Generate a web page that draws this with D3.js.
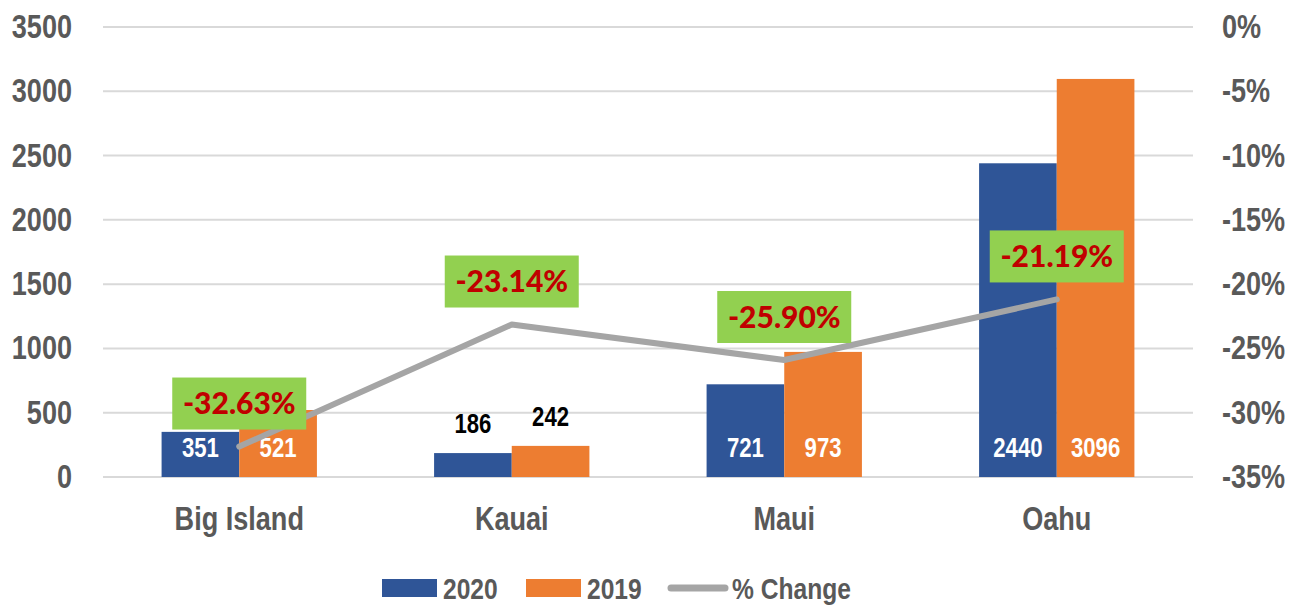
<!DOCTYPE html>
<html>
<head>
<meta charset="utf-8">
<script src="https://cdn.jsdelivr.net/npm/d3@7"></script>
<style>
  body { margin: 0; background: #fff; }
  svg text { font-family: "Liberation Sans", Arial, sans-serif; font-weight: bold; }
  .pct text { font-family: Lato, "Open Sans", sans-serif; font-weight: 900; }
</style>
</head>
<body>
<div id="chart"></div>
<script>
// data
var islands = ["Big Island", "Kauai", "Maui", "Oahu"];
var values2020 = [351, 186, 721, 2440];
var values2019 = [521, 242, 973, 3096];
var pctChange = [-32.63, -23.14, -25.90, -21.19];
var leftTicks = [0, 500, 1000, 1500, 2000, 2500, 3000, 3500];
var rightTicks = [0, -5, -10, -15, -20, -25, -30, -35];
var seriesNames = ["2020", "2019", "% Change"];

var width = 1296, height = 605;
var margin = {top: 27, right: 103, bottom: 128, left: 103};
var colors = {"2020": "#2F5597", "2019": "#ED7D31", line: "#A5A5A5"};

// no Arial Narrow here, so squeeze Liberation Sans horizontally
function narrow(sel) {
  sel.each(function() {
    var w = this.getComputedTextLength();
    d3.select(this)
      .attr("textLength", w * 0.82)
      .attr("lengthAdjust", "spacingAndGlyphs");
  });
}

var svg = d3.select("#chart").append("svg")
    .attr("width", width)
    .attr("height", height);

var x = d3.scaleBand()
    .domain(islands)
    .range([margin.left, width - margin.right])
    .paddingInner(0.43)
    .paddingOuter(0.215);

var xs = d3.scaleBand()
    .domain(["2020", "2019"])
    .range([0, x.bandwidth()]);

var y = d3.scaleLinear()
    .domain([0, 3500])
    .range([height - margin.bottom, margin.top]);

var y2 = d3.scaleLinear()
    .domain([-35, 0])
    .range([height - margin.bottom, margin.top]);

// gridlines
svg.append("g")
  .selectAll("line")
  .data(leftTicks)
  .enter().append("line")
    .attr("x1", margin.left)
    .attr("x2", width - margin.right)
    .attr("y1", function(d) { return y(d); })
    .attr("y2", function(d) { return y(d); })
    .attr("stroke", "#D9D9D9")
    .attr("stroke-width", 2);

// left axis
var gl = svg.append("g")
    .attr("transform", "translate(" + margin.left + ",0)")
    .call(d3.axisLeft(y).tickValues(leftTicks).tickSize(0).tickPadding(31).tickFormat(d3.format("d")));
gl.select(".domain").remove();
gl.selectAll("text").attr("fill", "#595959").style("font-size", "33px").call(narrow);

// right axis
var gr = svg.append("g")
    .attr("transform", "translate(" + (width - margin.right) + ",0)")
    .call(d3.axisRight(y2).tickValues(rightTicks).tickSize(0).tickPadding(29)
      .tickFormat(function(d) { return d + "%"; }));
gr.select(".domain").remove();
gr.selectAll("text").attr("fill", "#595959").style("font-size", "33px").call(narrow);

// x axis
var gx = svg.append("g")
    .attr("transform", "translate(0," + (height - margin.bottom) + ")")
    .call(d3.axisBottom(x).tickSize(0).tickPadding(30));
gx.select(".domain").remove();
gx.selectAll("text").attr("fill", "#595959").style("font-size", "33px").call(narrow);

// bars
var rows = islands.map(function(name, i) {
  return {name: name, bars: [{key: "2020", value: values2020[i]}, {key: "2019", value: values2019[i]}]};
});

var groups = svg.append("g")
  .selectAll("g")
  .data(rows)
  .enter().append("g")
    .attr("transform", function(d) { return "translate(" + x(d.name) + ",0)"; });

groups.selectAll("rect")
  .data(function(d) { return d.bars; })
  .enter().append("rect")
    .attr("x", function(d) { return xs(d.key); })
    .attr("width", xs.bandwidth())
    .attr("y", function(d) { return y(d.value); })
    .attr("height", function(d) { return y(0) - y(d.value); })
    .attr("fill", function(d) { return colors[d.key]; });

// bar value labels - inside at the base, or above when the bar is too short
groups.selectAll("text.val")
  .data(function(d) { return d.bars; })
  .enter().append("text")
    .attr("class", "val")
    .attr("x", function(d) { return xs(d.key) + xs.bandwidth() / 2; })
    .attr("y", function(d) {
      var h = y(0) - y(d.value);
      return h < 40 ? y(d.value) - 20 : y(0) - 20;
    })
    .attr("text-anchor", "middle")
    .attr("fill", function(d) { return (y(0) - y(d.value)) < 40 ? "#000" : "#fff"; })
    .style("font-size", "27px")
    .text(function(d) { return d.value; })
    .call(narrow);

// % change line
var line = d3.line()
    .x(function(d, i) { return x(islands[i]) + x.bandwidth() / 2; })
    .y(function(d) { return y2(d); });

svg.append("path")
    .datum(pctChange)
    .attr("d", line)
    .attr("fill", "none")
    .attr("stroke", colors.line)
    .attr("stroke-width", 6)
    .attr("stroke-linecap", "round")
    .attr("stroke-linejoin", "round");

// % change labels in green boxes
var b = {w: 134, h: 52, off: 43};
var pct = svg.append("g").attr("class", "pct")
  .selectAll("g")
  .data(pctChange)
  .enter().append("g")
    .attr("transform", function(d, i) {
      return "translate(" + (x(islands[i]) + x.bandwidth() / 2) + "," + (y2(d) - b.off) + ")";
    });

pct.append("rect")
    .attr("x", -b.w / 2)
    .attr("y", -b.h / 2)
    .attr("width", b.w)
    .attr("height", b.h)
    .attr("fill", "#92D050");

pct.append("text")
    .attr("text-anchor", "middle")
    .attr("dy", "0.36em")
    .attr("fill", "#C00000")
    .style("font-size", "30px")
    .text(function(d) { return d.toFixed(2) + "%"; });

// legend
var legend = svg.append("g").attr("transform", "translate(0,588)");
var legendX = [382, 526, 668];

seriesNames.forEach(function(name, i) {
  var g = legend.append("g").attr("transform", "translate(" + legendX[i] + ",0)");
  if (name === "% Change") {
    g.append("line")
      .attr("x1", 3).attr("x2", 57)
      .attr("stroke", colors.line)
      .attr("stroke-width", 7)
      .attr("stroke-linecap", "round");
    g.append("text")
      .attr("x", 64)
      .attr("dy", "0.36em")
      .attr("fill", "#595959")
      .style("font-size", "30px")
      .text(name)
      .call(narrow);
  } else {
    g.append("rect")
      .attr("y", -9)
      .attr("width", 55)
      .attr("height", 18)
      .attr("fill", colors[name]);
    g.append("text")
      .attr("x", 61)
      .attr("dy", "0.36em")
      .attr("fill", "#595959")
      .style("font-size", "30px")
      .text(name)
      .call(narrow);
  }
});
</script>
</body>
</html>
